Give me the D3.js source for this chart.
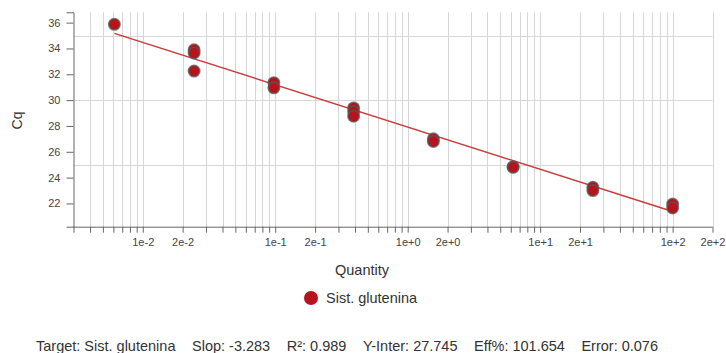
<!DOCTYPE html>
<html><head><meta charset="utf-8">
<script src="https://cdn.jsdelivr.net/npm/d3@7"></script>
<style>
body{margin:0;background:#fff;}
text{font-family:"Liberation Sans",Arial,sans-serif;}
</style></head>
<body><svg id="c" width="726" height="353"></svg>
<script>
const quantities = [100,100,25,25,6.25,6.25,1.5625,1.5625,0.390625,0.390625,0.390625,0.09765625,0.09765625,0.0244140625,0.0244140625,0.0244140625,0.006103515625];
const cqValues   = [21.95,21.65,23.25,23.0,24.85,24.8,27.0,26.8,29.4,29.1,28.75,31.35,30.95,33.9,33.65,32.25,35.87];
const fitQuantity = [0.006103515625, 100];
const fitCq = [35.17, 21.37];
const seriesName = "Sist. glutenina";
const yTicks = [22,24,26,28,30,32,34,36];
const yGrid = [25,30,35];
const xDomain = [0.003, 200];
const yDomain = [20.2, 36.8];
const statLabels = ["Target: Sist. glutenina","Slop: -3.283","R²: 0.989","Y-Inter: 27.745","Eff%: 101.654","Error: 0.076"];

const svg = d3.select("#c");
const L=73.5, R=712.5, T=12.3, B=226.7;
const x = d3.scaleLog().domain(xDomain).range([L,R]);
const y = d3.scaleLinear().domain(yDomain).range([B,T]);

const xTicks = [];
for (let e=-3;e<=2;e++) for (let m=1;m<=9;m++){ const v=+(m+"e"+e); if (v>=xDomain[0]*0.999 && v<=xDomain[1]*1.001) xTicks.push(v); }

svg.append("g").selectAll("line").data(xTicks.filter(v=>v>xDomain[0]*1.001)).join("line")
  .attr("x1",d=>Math.round(x(d))+0.5).attr("x2",d=>Math.round(x(d))+0.5).attr("y1",T).attr("y2",B)
  .attr("stroke","#d6d6d6").attr("stroke-width",1);
svg.append("g").selectAll("line").data(yGrid).join("line")
  .attr("x1",L).attr("x2",R).attr("y1",d=>Math.round(y(d))+0.5).attr("y2",d=>Math.round(y(d))+0.5)
  .attr("stroke","#d6d6d6").attr("stroke-width",1);

const fmt = d3.format(".0e");
const xAxis = d3.axisBottom(x).tickValues(xTicks).tickSize(6).tickSizeOuter(6)
  .tickFormat(d=>{const m=Math.round(d/Math.pow(10,Math.floor(Math.log10(d)+1e-9))); return (m===1||m===2)?fmt(d):"";});
const gx = svg.append("g").attr("transform",`translate(0,${B})`).call(xAxis);
gx.selectAll("text").attr("font-size",11).attr("fill","#444").attr("dy","0.9em");
gx.selectAll("line,path").attr("stroke","#666");

const yAxis = d3.axisLeft(y).tickValues(yTicks).tickSize(7).tickSizeOuter(7);
const gy = svg.append("g").attr("transform",`translate(${L},0)`).call(yAxis);
gy.selectAll("text").attr("font-size",11).attr("fill","#444").attr("x",-13);
gy.selectAll("line,path").attr("stroke","#666");
gx.select(".domain").remove();
svg.append("line").attr("x1",L).attr("x2",R).attr("y1",B+0.5).attr("y2",B+0.5).attr("stroke","#666");

svg.append("path").datum(fitQuantity.map((q,i)=>[q,fitCq[i]]))
  .attr("d",d3.line().x(d=>x(d[0])).y(d=>y(d[1])))
  .attr("stroke","#cc3a3a").attr("stroke-width",1.5).attr("fill","none");

svg.append("g").selectAll("circle").data(quantities.map((q,i)=>[q,cqValues[i]])).join("circle")
  .attr("cx",d=>x(d[0])).attr("cy",d=>y(d[1])).attr("r",5.7)
  .attr("fill","#b5141d").attr("stroke","rgba(90,90,90,0.75)").attr("stroke-width",1.6);

svg.append("text").attr("transform","translate(22,120.5) rotate(-90)").attr("text-anchor","middle")
  .attr("font-size",14).attr("fill","#333").text("Cq");
svg.append("text").attr("x",362).attr("y",274.5).attr("text-anchor","middle")
  .attr("font-size",14.5).attr("fill","#333").text("Quantity");

svg.append("circle").attr("cx",311).attr("cy",298).attr("r",7).attr("fill","#b5141d");
svg.append("text").attr("x",326).attr("y",303).attr("font-size",14.5).attr("fill","#333").text(seriesName);

// stats line: evenly spaced between left and right edges
const statStart = 36, statEnd = 658;
const st = svg.append("g").selectAll("text").data(statLabels).join("text")
  .attr("y",351).attr("font-size",14.5).attr("fill","#333").text(d=>d);
const widths = st.nodes().map(n=>n.getComputedTextLength());
const gap = (statEnd - statStart - d3.sum(widths)) / (statLabels.length - 1);
let cx = statStart;
st.each(function(d,i){ d3.select(this).attr("x",cx); cx += widths[i] + gap; });
</script></body></html>
